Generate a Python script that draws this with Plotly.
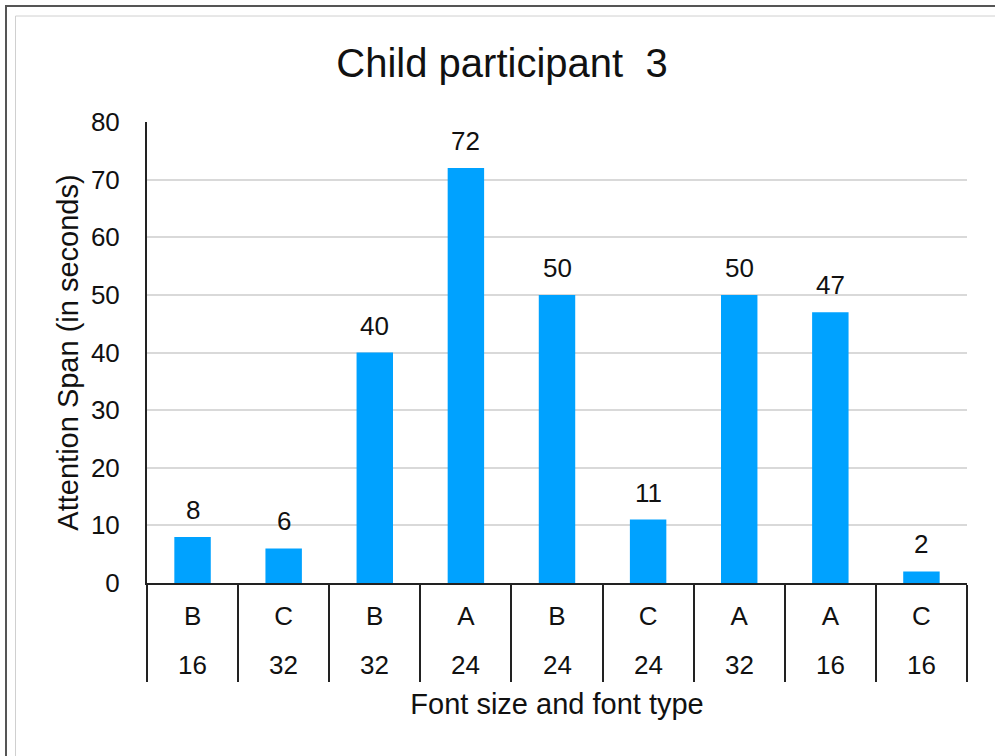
import plotly.graph_objects as go

# Attention span per stimulus (font type over font size)
font_types = ["B", "C", "B", "A", "B", "C", "A", "A", "C"]
font_sizes = ["16", "32", "32", "24", "24", "24", "32", "16", "16"]
attention_seconds = [8, 6, 40, 72, 50, 11, 50, 47, 2]

y_ticks = list(range(0, 81, 10))

# unique category keys; the axis shows only the font type
categories = [f"{t} {s}" for t, s in zip(font_types, font_sizes)]

FONT = "Liberation Sans, Arial, Helvetica, sans-serif"
BAR_COLOR = "#00A2FF"
TEXT = "#111111"

fig = go.Figure(
    go.Bar(
        x=categories,
        y=attention_seconds,
        marker=dict(color=BAR_COLOR, line=dict(width=0)),
        width=0.4,
        hoverinfo="x+y",
    )
)

# Plot-area geometry in pixels
L, R, T, B = 147, 967, 122, 583
W, H = R - L, B - T


def px_x(p):
    return (p - L) / W


def px_y(p):
    return 1 - (p - T) / H


# Value labels above each bar
for cat, val in zip(categories, attention_seconds):
    fig.add_annotation(
        x=cat, y=val, text=str(val), showarrow=False,
        yanchor="bottom", yshift=10,
        font=dict(family=FONT, size=26, color=TEXT),
    )

# Second label row: font size under each font type
for cat, size in zip(categories, font_sizes):
    fig.add_annotation(
        x=cat, xref="x", y=px_y(665), yref="paper", text=size,
        showarrow=False, yanchor="middle",
        font=dict(family=FONT, size=26, color=TEXT),
    )

# Chart frame: dark outer edge with a light inner edge
fig.add_shape(type="rect", xref="paper", yref="paper",
              x0=px_x(6), x1=px_x(1010), y0=px_y(6), y1=px_y(790),
              line=dict(color="#555555", width=2), layer="below")
fig.add_shape(type="rect", xref="paper", yref="paper",
              x0=px_x(15.5), x1=px_x(1010), y0=px_y(16), y1=px_y(790),
              line=dict(color="#d0d0d0", width=1), layer="below")

fig.update_layout(
    width=995, height=756,
    margin=dict(l=L, r=995 - R, t=T, b=756 - B, autoexpand=False),
    paper_bgcolor="white", plot_bgcolor="white",
    showlegend=False,
    font=dict(family=FONT, color=TEXT),
    title=dict(
        text="Child participant  3",
        x=502 / 995, xanchor="center", xref="container",
        y=1 - 63 / 756, yanchor="middle", yref="container",
        font=dict(family=FONT, size=40, color=TEXT),
    ),
)

fig.update_xaxes(
    type="category", automargin=False,
    tickvals=categories, ticktext=font_types,
    showline=True, linecolor="#222222", linewidth=2,
    ticks="outside", tickson="boundaries", ticklen=97,
    tickcolor="#222222", tickwidth=2,
    ticklabelstandoff=9,
    tickfont=dict(family=FONT, size=26, color=TEXT),
    showgrid=False,
    title=dict(text="Font size and font type",
               font=dict(family=FONT, size=29, color=TEXT),
               standoff=63),
)

fig.update_yaxes(
    range=[0, 80], tickvals=y_ticks, automargin=False,
    showline=True, linecolor="#222222", linewidth=2,
    showgrid=True, gridcolor="#d9d9d9", gridwidth=2,
    zeroline=False,
    ticks="", ticklabelstandoff=20,
    tickfont=dict(family=FONT, size=26, color=TEXT),
    title=dict(text="Attention Span (in seconds)",
               font=dict(family=FONT, size=29, color=TEXT),
               standoff=4),
)

fig.write_html("out.html")
